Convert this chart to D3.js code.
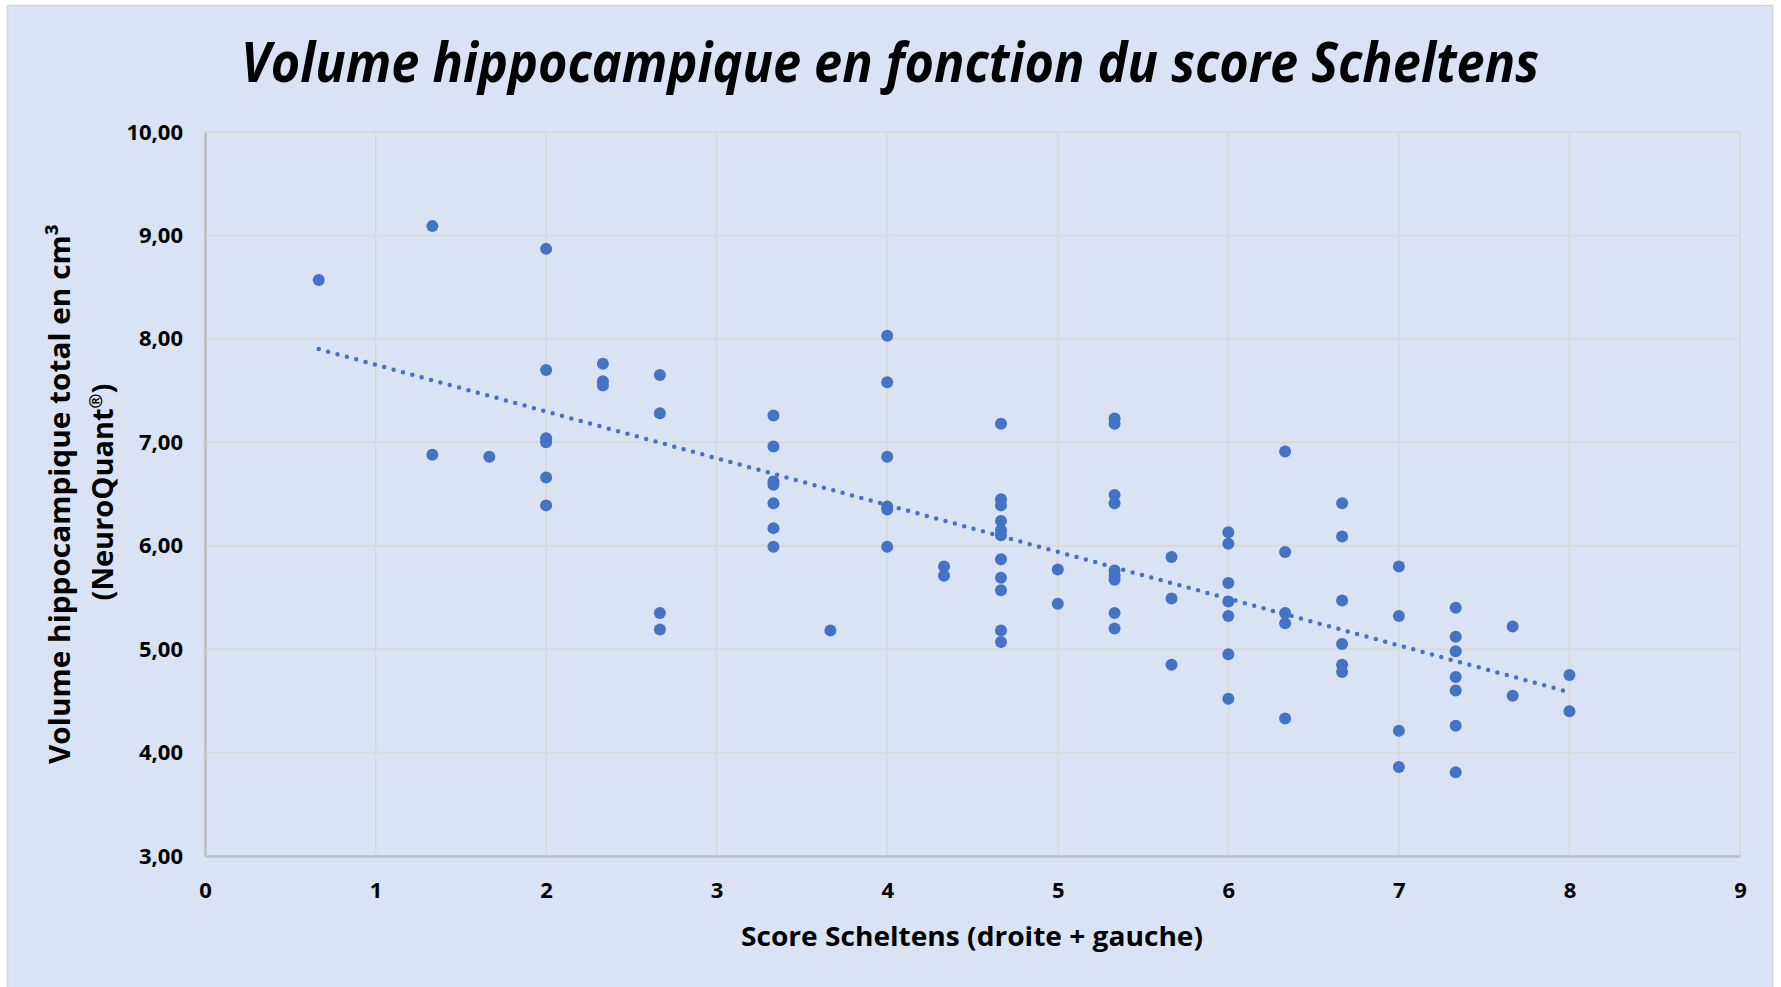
<!DOCTYPE html>
<html>
<head>
<meta charset="utf-8">
<script src="https://cdn.jsdelivr.net/npm/d3@7"></script>
<style>
  body { margin: 0; background: #fff; }
  text { font-family: "Open Sans", sans-serif; font-weight: bold; fill: #000; }
</style>
</head>
<body>
<script>
// score Scheltens levels (x) and the volumes measured at each level (y)
const scores = [0.667, 1.333, 1.667, 2, 2.333, 2.667, 3.333, 3.667, 4, 4.333, 4.667,
  5, 5.333, 5.667, 6, 6.333, 6.667, 7, 7.333, 7.667, 8];
const volumes = [
  [8.57],
  [9.09, 6.88],
  [6.86],
  [8.87, 7.70, 7.04, 7.00, 6.66, 6.39],
  [7.76, 7.59, 7.55],
  [7.65, 7.28, 5.35, 5.19],
  [7.26, 6.96, 6.62, 6.59, 6.41, 6.17, 5.99],
  [5.18],
  [8.03, 7.58, 6.86, 6.38, 6.35, 5.99],
  [5.80, 5.71],
  [7.18, 6.45, 6.39, 6.24, 6.15, 6.10, 5.87, 5.69, 5.57, 5.18, 5.07],
  [5.77, 5.44],
  [7.23, 7.18, 6.49, 6.41, 5.76, 5.71, 5.67, 5.35, 5.20],
  [5.89, 5.49, 4.85],
  [6.13, 6.02, 5.64, 5.46, 5.32, 4.95, 4.52],
  [6.91, 5.94, 5.35, 5.25, 4.33],
  [6.41, 6.09, 5.47, 5.05, 4.85, 4.78],
  [5.80, 5.32, 4.21, 3.86],
  [5.40, 5.12, 4.98, 4.73, 4.60, 4.26, 3.81],
  [5.22, 4.55],
  [4.75, 4.40]
];
const xTicks = [0, 1, 2, 3, 4, 5, 6, 7, 8, 9];
const yTicks = [3, 4, 5, 6, 7, 8, 9, 10];

const W = 1781, H = 987;
const plotL = 205, plotR = 1740, plotT = 132, plotB = 856;
const blue = "#4472C4";

const points = [];
scores.forEach((s, i) => volumes[i].forEach(v => points.push([s, v])));

const fr = d3.formatLocale({ decimal: ",", thousands: " ", grouping: [3], currency: ["", "€"] });
const fmt = fr.format(".2f");

const x = d3.scaleLinear().domain([0, 9]).range([plotL, plotR]);
const y = d3.scaleLinear().domain([3, 10]).range([plotB, plotT]);

const svg = d3.select("body").append("svg")
  .attr("width", W)
  .attr("height", H);

svg.append("rect")
  .attr("x", 7.5).attr("y", 5.5)
  .attr("width", 1765).attr("height", 990)
  .attr("fill", "#DAE3F3")
  .attr("stroke", "#d4d4d4")
  .attr("stroke-width", 1.5);

// grid
svg.append("g").selectAll("line")
  .data(yTicks.slice(1))
  .join("line")
  .attr("x1", plotL).attr("x2", plotR)
  .attr("y1", d => y(d)).attr("y2", d => y(d))
  .attr("stroke", "#d9d9d9").attr("stroke-width", 2);
svg.append("g").selectAll("line")
  .data(xTicks.slice(1))
  .join("line")
  .attr("x1", d => x(d)).attr("x2", d => x(d))
  .attr("y1", plotT).attr("y2", plotB)
  .attr("stroke", "#d9d9d9").attr("stroke-width", 2);

// axes
const yAxis = svg.append("g")
  .attr("transform", `translate(${plotL},0)`)
  .call(d3.axisLeft(y).tickValues(yTicks).tickFormat(fmt).tickSize(0).tickPadding(22));
const xAxis = svg.append("g")
  .attr("transform", `translate(0,${plotB})`)
  .call(d3.axisBottom(x).tickValues(xTicks).tickFormat(d3.format("d")).tickSize(0).tickPadding(26));
[yAxis, xAxis].forEach(g => {
  g.attr("font-family", null).attr("font-size", null);
  g.select(".domain").attr("stroke", "#bfbfbf").attr("stroke-width", 2.5);
  g.selectAll("text").attr("font-size", 22).attr("fill", "#000");
});

// trend line (least squares)
const mx = d3.mean(points, d => d[0]), my = d3.mean(points, d => d[1]);
const slope = d3.sum(points, d => (d[0] - mx) * (d[1] - my)) / d3.sum(points, d => (d[0] - mx) ** 2);
const icpt = my - slope * mx;
const xr = d3.extent(points, d => d[0]);
svg.append("path")
  .attr("d", d3.line().x(d => x(d)).y(d => y(icpt + slope * d))(xr))
  .attr("fill", "none")
  .attr("stroke", blue)
  .attr("stroke-width", 4.5)
  .attr("stroke-linecap", "round")
  .attr("stroke-dasharray", "0,9.7");

// points
svg.append("g").selectAll("circle")
  .data(points)
  .join("circle")
  .attr("cx", d => x(d[0]))
  .attr("cy", d => y(d[1]))
  .attr("r", 6)
  .attr("fill", blue);

// fit a text to a given width
function fit(t, w) {
  t.attr("textLength", w).attr("lengthAdjust", "spacingAndGlyphs");
}

const title = svg.append("text")
  .attr("x", 890).attr("y", 82)
  .attr("text-anchor", "middle")
  .attr("font-size", 55)
  .attr("font-style", "italic")
  .text("Volume hippocampique en fonction du score Scheltens");
fit(title, 1298);

const xt = svg.append("text")
  .attr("x", 972).attr("y", 946)
  .attr("text-anchor", "middle")
  .attr("font-size", 27)
  .text("Score Scheltens (droite + gauche)");
fit(xt, 462);

const yt1 = svg.append("text")
  .attr("transform", "translate(70,494) rotate(-90)")
  .attr("text-anchor", "middle")
  .attr("font-size", 29)
  .text("Volume hippocampique total en cm³");
fit(yt1, 540);

const yt2 = svg.append("text")
  .attr("transform", "translate(113,492) rotate(-90)")
  .attr("text-anchor", "middle")
  .attr("font-size", 29);
yt2.append("tspan").text("(NeuroQuant");
yt2.append("tspan").attr("font-size", 18).attr("dy", -11).text("®");
yt2.append("tspan").attr("dy", 11).text(")");
</script>
</body>
</html>
